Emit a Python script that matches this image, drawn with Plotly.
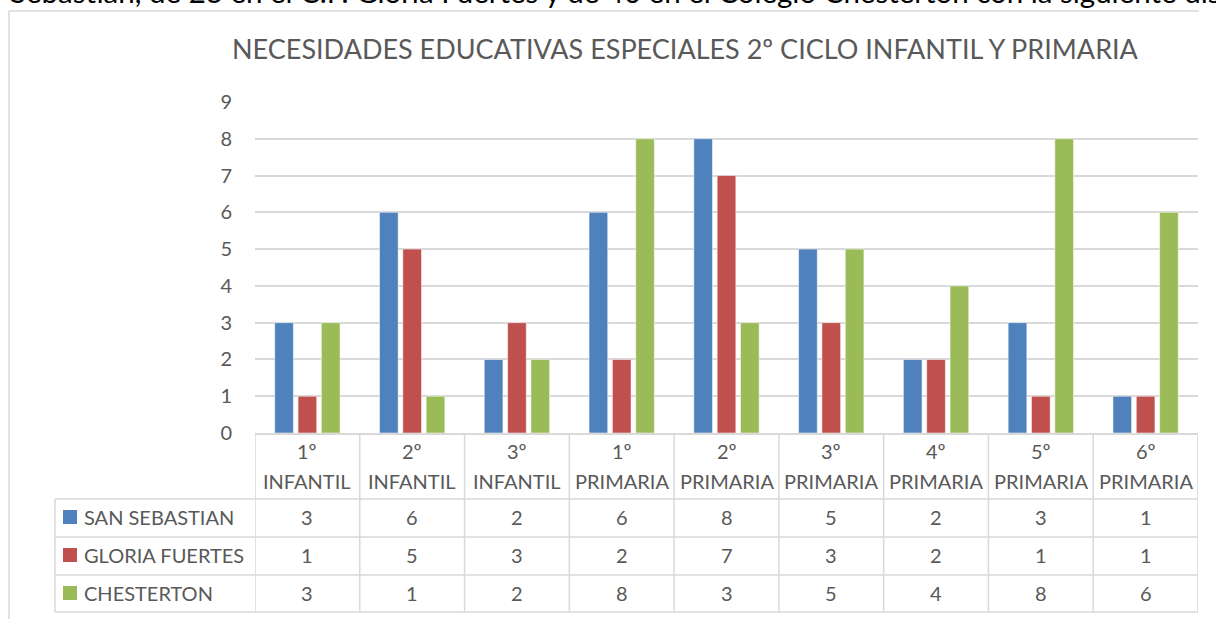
import plotly.graph_objects as go

# data
categories = ["1º INFANTIL", "2º INFANTIL", "3º INFANTIL",
              "1º PRIMARIA", "2º PRIMARIA", "3º PRIMARIA",
              "4º PRIMARIA", "5º PRIMARIA", "6º PRIMARIA"]
san_sebastian = [3, 6, 2, 6, 8, 5, 2, 3, 1]
gloria_fuertes = [1, 5, 3, 2, 7, 3, 2, 1, 1]
chesterton = [3, 1, 2, 8, 3, 5, 4, 8, 6]
series_names = ["SAN SEBASTIAN", "GLORIA FUERTES", "CHESTERTON"]
series_values = [san_sebastian, gloria_fuertes, chesterton]
series_colors = ["#4F81BD", "#C0504D", "#9BBB59"]
title = "NECESIDADES EDUCATIVAS ESPECIALES 2º CICLO INFANTIL Y PRIMARIA"
page_text = ("Sebastian, de 23 en el C.P. Gloria Fuertes y de 40 en el Colegio "
             "Chesterton con la siguiente distribución")

W, H = 1216, 619
ML, MR, MT, MB = 255, 18, 102, 186
PW, PH = W - ML - MR, H - MT - MB

FONT = "Lato"
GREY = "#595959"
LINE = "#D9D9D9"


def fx(px):
    # pixel x -> paper x
    return (px - ML) / PW


def fy(py):
    # pixel y -> paper y
    return (H - MB - py) / PH


def label(text, x, y, size=20, xref="paper", xanchor="center", color=GREY):
    return dict(x=x, y=fy(y), xref=xref, yref="paper", text=text, showarrow=False,
                xanchor=xanchor, yanchor="middle",
                font=dict(family=FONT, size=size, color=color))


fig = go.Figure()
for name, vals, col in zip(series_names, series_values, series_colors):
    fig.add_trace(go.Bar(
        x=list(range(len(categories))), y=vals, name=name,
        marker=dict(color=col, line=dict(color="rgba(255,255,255,0.5)", width=1)),
        showlegend=False,
    ))

shapes = []
annotations = []

# chart frame (left and top edges visible)
shapes.append(dict(type="line", xref="paper", yref="paper", x0=fx(9), x1=fx(9), y0=fy(11), y1=fy(640),
                   line=dict(color=LINE, width=1.5)))
shapes.append(dict(type="line", xref="paper", yref="paper", x0=fx(9), x1=fx(1199), y0=fy(11), y1=fy(11),
                   line=dict(color=LINE, width=1.5)))

# data table grid
row_lines = [499, 537, 575, 612]
n = len(categories)
for i in range(n + 1):
    shapes.append(dict(type="line", xref="x", yref="paper", x0=i - 0.5, x1=i - 0.5,
                       y0=fy(433), y1=fy(612), line=dict(color=LINE, width=1.5)))
for ry in row_lines:
    shapes.append(dict(type="line", xref="paper", yref="paper", x0=fx(55), x1=1,
                       y0=fy(ry), y1=fy(ry), line=dict(color=LINE, width=1.5)))
shapes.append(dict(type="line", xref="paper", yref="paper", x0=fx(55), x1=fx(55),
                   y0=fy(499), y1=fy(612), line=dict(color=LINE, width=1.5)))

# category header (two lines per cell)
for i, cat in enumerate(categories):
    top, bottom = cat.split(" ", 1)
    annotations.append(label(top, i, 451, xref="x"))
    annotations.append(label(bottom, i, 481, xref="x"))

# table rows
row_centers = [517, 555, 593]
for rc, name, vals, col in zip(row_centers, series_names, series_values, series_colors):
    shapes.append(dict(type="rect", xref="paper", yref="paper", x0=fx(63), x1=fx(77),
                       y0=fy(rc + 7), y1=fy(rc - 7), fillcolor=col, line=dict(width=0)))
    annotations.append(label(name, fx(82), rc, xanchor="left"))
    for i, v in enumerate(vals):
        annotations.append(label(str(v), i, rc, xref="x"))

# title
annotations.append(label(title, fx(685), 48, size=27))

# body text of the page, cut off by the top edge as in the screenshot
annotations.append(label(page_text, fx(8), -9, size=29.5, xanchor="left", color="#000000"))

fig.update_layout(
    width=W, height=H, autosize=False,
    margin=dict(l=ML, r=MR, t=MT, b=MB),
    paper_bgcolor="white", plot_bgcolor="white",
    barmode="group", bargap=0.332, bargroupgap=0.2,
    shapes=shapes, annotations=annotations,
    xaxis=dict(range=[-0.5, n - 0.5], showticklabels=False, showgrid=False, zeroline=False,
               showline=True, linecolor=LINE, linewidth=1.5, ticks=""),
    yaxis=dict(range=[0, 9], dtick=1, showgrid=True, gridcolor=LINE, gridwidth=1.5,
               zeroline=False, ticks="", ticklabelstandoff=22,
               tickfont=dict(family=FONT, size=20, color=GREY)),
    font=dict(family=FONT),
)

# page body has a default 8px margin; drop it so the figure fills the window
fig.write_html("out.html", config={"displayModeBar": False},
               post_script="document.body.style.margin = '0';")
